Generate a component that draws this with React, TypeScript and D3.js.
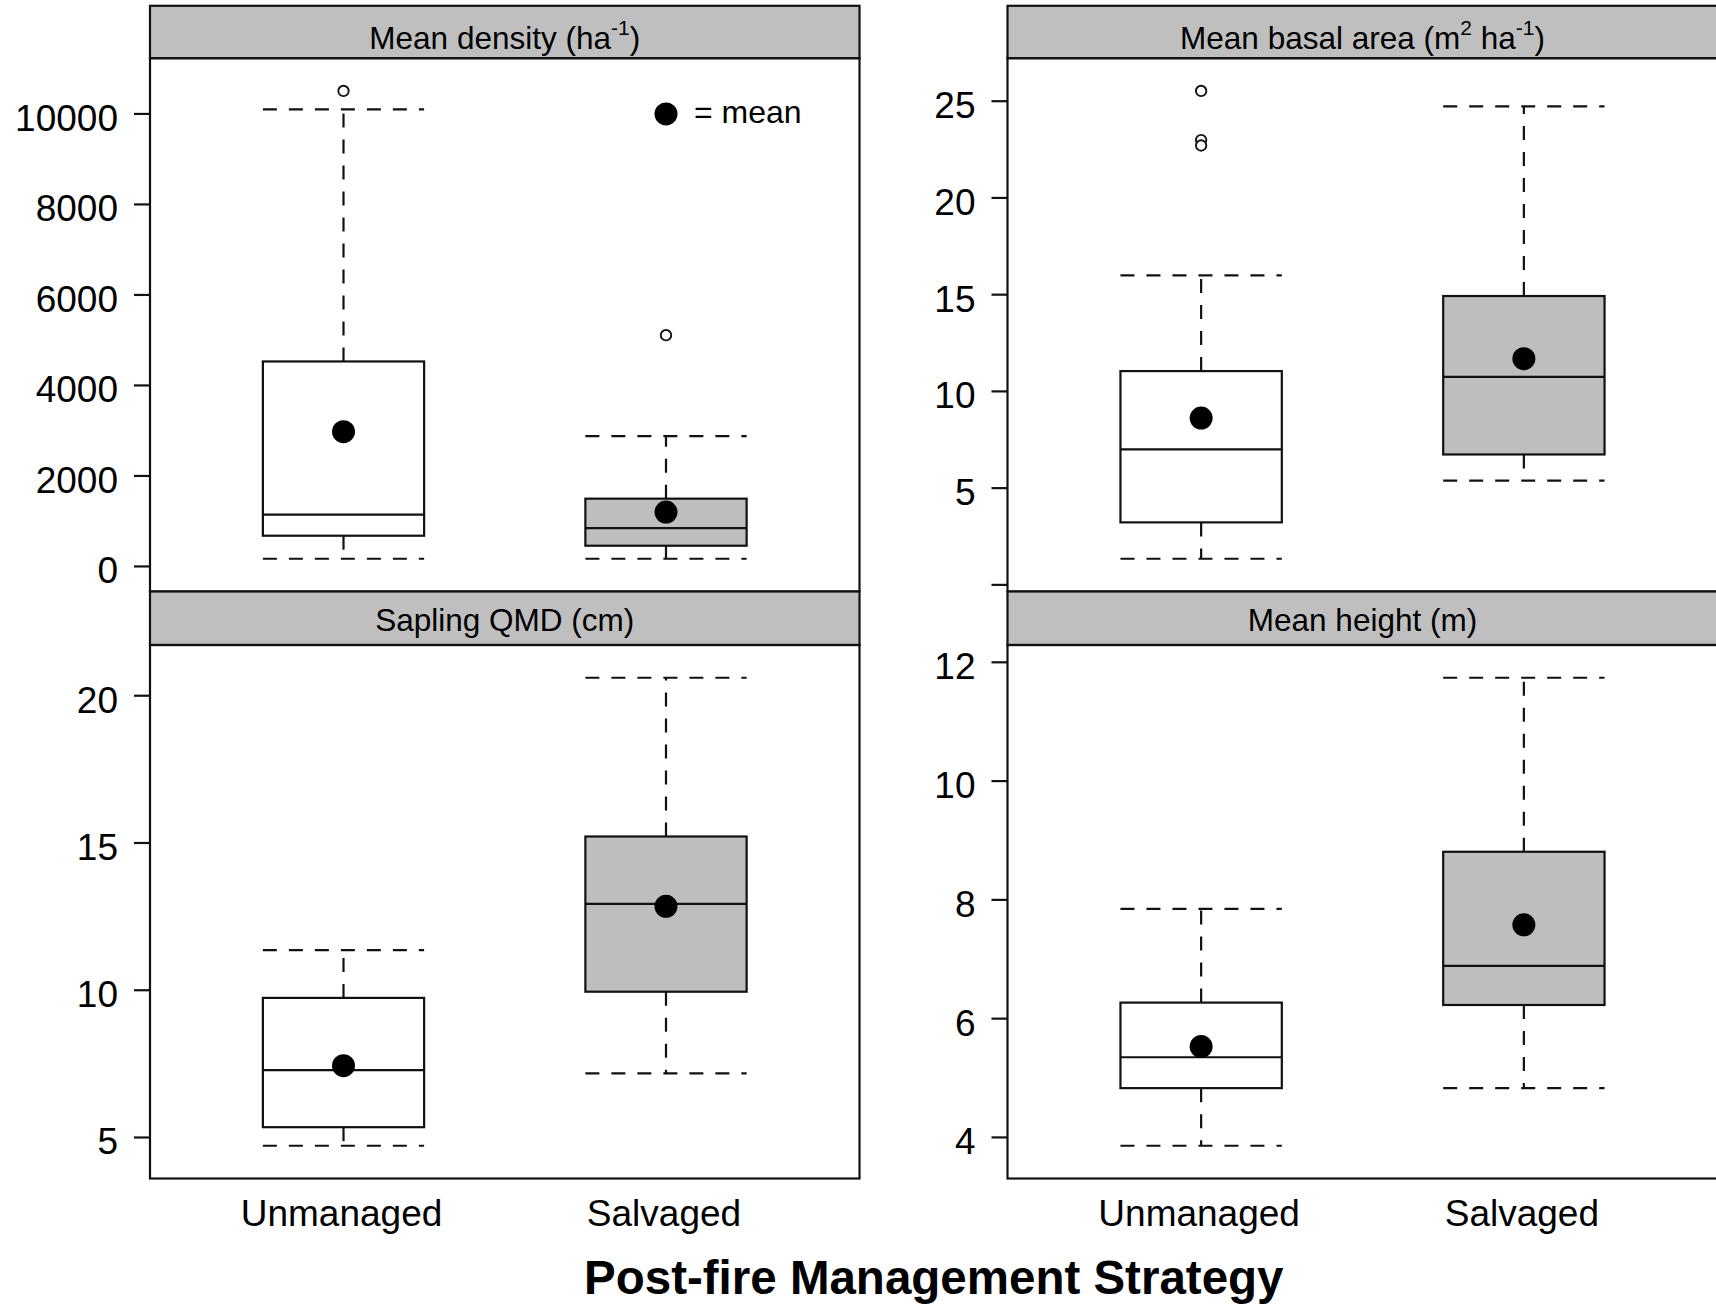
import React from "react";
import * as d3 from "d3";

// ---------- data ----------
const groups = ["Unmanaged", "Salvaged"];

// five-number summaries: [lower whisker, Q1, median, Q3, upper whisker]
const densityStats = [
  [170, 679, 1143, 4530, 10102],
  [170, 458, 847, 1498, 2878],
];
const densityMeans = [2977, 1202];
const densityOutliers = [[10508], [5110]];
const densityTicks = [0, 2000, 4000, 6000, 8000, 10000];
const densityTickLabels = ["0", "2000", "4000", "6000", "8000", "10000"];

const basalStats = [
  [1.35, 3.23, 7.0, 11.05, 16.0],
  [5.39, 6.74, 10.75, 14.93, 24.73],
];
const basalMeans = [8.62, 11.69];
const basalOutliers = [[25.53, 22.99, 22.71], []];
const basalTicks = [0, 5, 10, 15, 20, 25];
const basalTickLabels = ["", "5", "10", "15", "20", "25"];

const qmdStats = [
  [4.72, 5.35, 7.29, 9.74, 11.36],
  [7.18, 9.95, 12.93, 15.22, 20.61],
];
const qmdMeans = [7.44, 12.85];
const qmdOutliers = [[], []];
const qmdTicks = [5, 10, 15, 20];
const qmdTickLabels = ["5", "10", "15", "20"];

const heightStats = [
  [3.86, 4.83, 5.35, 6.27, 7.85],
  [4.83, 6.23, 6.89, 8.81, 11.74],
];
const heightMeans = [5.53, 7.58];
const heightOutliers = [[], []];
const heightTicks = [4, 6, 8, 10, 12];
const heightTickLabels = ["4", "6", "8", "10", "12"];

const legendValue = 10000;
const legendText = "= mean";
const xTitle = "Post-fire Management Strategy";

// ---------- layout ----------
const W = 1716;
const H = 1305;
const FONT = "'Liberation Sans', Arial, Helvetica, sans-serif";
const GRAY = "#BEBEBE";
const STRIP = "#BFBFBF";
const LINE = "#111";
const LW = 2.2;

const cols = [
  [150, 859.5],
  [1007.5, 1717.5],
];
const rows = [
  { stripTop: 5.8, stripBottom: 58.2, bottom: 591.5, textOff: 43.2 },
  { stripTop: 591.5, stripBottom: 645, bottom: 1178.5, textOff: 39.5 },
];

type Title = { t: string; sup?: boolean }[];

const panels = [
  {
    col: 0, row: 0,
    title: [{ t: "Mean density (ha" }, { t: "-1", sup: true }, { t: ")" }] as Title,
    stats: densityStats, means: densityMeans, outliers: densityOutliers,
    ticks: densityTicks, labels: densityTickLabels, legend: true,
  },
  {
    col: 1, row: 0,
    title: [{ t: "Mean basal area (m" }, { t: "2", sup: true }, { t: " ha" }, { t: "-1", sup: true }, { t: ")" }] as Title,
    stats: basalStats, means: basalMeans, outliers: basalOutliers,
    ticks: basalTicks, labels: basalTickLabels, legend: false,
  },
  {
    col: 0, row: 1,
    title: [{ t: "Sapling QMD (cm)" }] as Title,
    stats: qmdStats, means: qmdMeans, outliers: qmdOutliers,
    ticks: qmdTicks, labels: qmdTickLabels, legend: false,
  },
  {
    col: 1, row: 1,
    title: [{ t: "Mean height (m)" }] as Title,
    stats: heightStats, means: heightMeans, outliers: heightOutliers,
    ticks: heightTicks, labels: heightTickLabels, legend: false,
  },
];

function Panel({ p }: { p: (typeof panels)[number] }) {
  const [x0, x1] = cols[p.col];
  const r = rows[p.row];
  const all = [...p.stats.flat(), ...p.outliers.flat()];
  const lo = d3.min(all) as number;
  const hi = d3.max(all) as number;
  const pad = 0.07 * (hi - lo);
  const y = d3.scaleLinear().domain([lo - pad, hi + pad]).range([r.bottom, r.stripBottom]);
  const x = d3.scaleLinear().domain([0.4, 2.6]).range([x0, x1]);
  const halfW = x(1.25) - x(1);
  const cx = (x0 + x1) / 2;

  let supOpen = false;
  const tspans = p.title.map((s, i) => {
    let dy = 0;
    if (s.sup && !supOpen) { dy = -14; supOpen = true; }
    else if (!s.sup && supOpen) { dy = 14; supOpen = false; }
    return (
      <tspan key={i} dy={dy} fontSize={s.sup ? 21 : 31.5}>{s.t}</tspan>
    );
  });

  return (
    <g>
      {/* strip */}
      <rect x={x0} y={r.stripTop} width={x1 - x0} height={r.stripBottom - r.stripTop}
        fill={STRIP} stroke={LINE} strokeWidth={LW} />
      <text x={cx} y={r.stripTop + r.textOff} textAnchor="middle" fontFamily={FONT}
        fontSize={31.5} fill="#000">{tspans}</text>
      {/* panel */}
      <rect x={x0} y={r.stripBottom} width={x1 - x0} height={r.bottom - r.stripBottom}
        fill="none" stroke={LINE} strokeWidth={LW} />
      {/* y axis */}
      {p.ticks.map((t, i) => (
        <g key={i}>
          <line x1={x0 - 16} x2={x0} y1={y(t)} y2={y(t)} stroke={LINE} strokeWidth={LW} />
          <text x={x0 - 32} y={y(t) + 17} textAnchor="end" fontFamily={FONT} fontSize={37} fill="#000">
            {p.labels[i]}
          </text>
        </g>
      ))}
      {/* boxes */}
      {p.stats.map((s, gi) => {
        const gx = x(gi + 1);
        const [wl, q1, med, q3, wh] = s;
        const fill = gi === 0 ? "#fff" : GRAY;
        return (
          <g key={gi}>
            <line x1={gx} x2={gx} y1={y(q1)} y2={y(wl)} stroke={LINE} strokeWidth={LW} strokeDasharray="14 12" />
            <line x1={gx} x2={gx} y1={y(q3)} y2={y(wh)} stroke={LINE} strokeWidth={LW} strokeDasharray="14 12" />
            <line x1={gx - halfW} x2={gx + halfW} y1={y(wl)} y2={y(wl)} stroke={LINE} strokeWidth={LW} strokeDasharray="14 12" />
            <line x1={gx - halfW} x2={gx + halfW} y1={y(wh)} y2={y(wh)} stroke={LINE} strokeWidth={LW} strokeDasharray="14 12" />
            <rect x={gx - halfW} y={y(q3)} width={2 * halfW} height={y(q1) - y(q3)}
              fill={fill} stroke={LINE} strokeWidth={LW} />
            <line x1={gx - halfW} x2={gx + halfW} y1={y(med)} y2={y(med)} stroke={LINE} strokeWidth={LW} />
            {p.outliers[gi].map((o, oi) => (
              <circle key={oi} cx={gx} cy={y(o)} r={5.2} fill="#fff" stroke={LINE} strokeWidth={1.9} />
            ))}
            <circle cx={gx} cy={y(p.means[gi])} r={11.5} fill="#000" />
          </g>
        );
      })}
      {p.legend && (
        <g>
          <circle cx={x(2)} cy={y(legendValue)} r={11.5} fill="#000" />
          <text x={x(2) + 28} y={y(legendValue) + 9} fontFamily={FONT} fontSize={32} fill="#000">
            {legendText}
          </text>
        </g>
      )}
      {/* x labels on bottom row */}
      {p.row === 1 && groups.map((g, gi) => (
        <text key={g} x={x(gi + 1) - 2} y={1226} textAnchor="middle" fontFamily={FONT} fontSize={37} fill="#000">
          {g}
        </text>
      ))}
    </g>
  );
}

export default function App() {
  return (
    <svg width={W} height={H} viewBox={`0 0 ${W} ${H}`}
      style={{ position: "absolute", left: 0, top: 0, display: "block", background: "#fff" }}>
      <rect x={0} y={0} width={W} height={H} fill="#fff" />
      {panels.map((p, i) => <Panel key={i} p={p} />)}
      <text x={(cols[0][0] + cols[1][1]) / 2} y={1294} textAnchor="middle" fontFamily={FONT}
        fontSize={47.5} fontWeight="bold" fill="#000">{xTitle}</text>
    </svg>
  );
}
